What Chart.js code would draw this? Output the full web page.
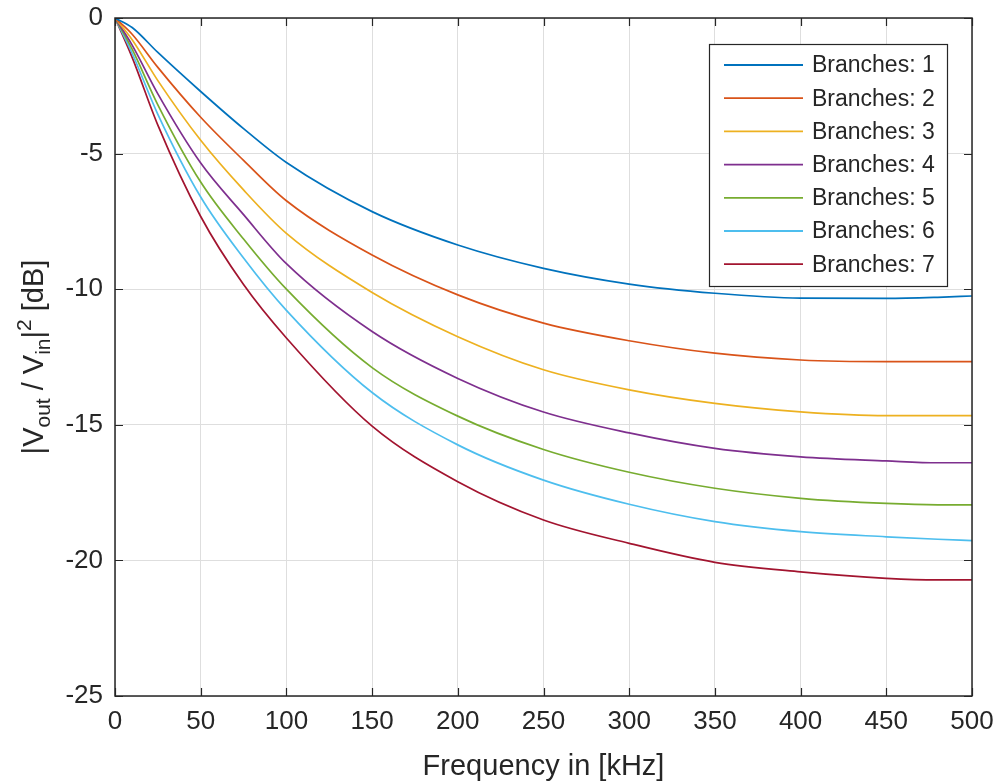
<!DOCTYPE html>
<html lang="en">
<head>
  <meta charset="UTF-8">
  <title>Branches frequency response</title>
  <script src="https://cdn.jsdelivr.net/npm/chart.js"></script>
  <style>
    body {
      margin: 0;
      background: #fff;
    }
    #wrap {
      width: 996px;
      height: 784px;
    }
  </style>
</head>
<body>
  <div id="wrap"><canvas id="chart" width="996" height="784"></canvas></div>

  <script>
    // ---------------- data ---------------- //
    const freqKHz = [0, 10, 25, 50, 75, 100, 150, 200, 250, 300, 350, 400, 450, 480, 500];

    const branches1 = [0, -0.35, -1.27, -2.71, -4.08, -5.33, -7.14, -8.37, -9.23, -9.81, -10.15, -10.33, -10.34, -10.3, -10.25];
    const branches2 = [0, -0.6, -1.82, -3.66, -5.25, -6.74, -8.74, -10.21, -11.25, -11.9, -12.36, -12.61, -12.67, -12.67, -12.67];
    const branches3 = [0, -0.8, -2.31, -4.51, -6.34, -7.94, -10.12, -11.75, -12.97, -13.71, -14.21, -14.52, -14.66, -14.66, -14.66];
    const branches4 = [0, -1.0, -2.8, -5.35, -7.25, -9.06, -11.56, -13.29, -14.53, -15.3, -15.87, -16.18, -16.33, -16.4, -16.4];
    const branches5 = [0, -1.15, -3.2, -6.05, -8.15, -10.0, -12.89, -14.68, -15.91, -16.75, -17.34, -17.71, -17.9, -17.95, -17.95];
    const branches6 = [0, -1.3, -3.55, -6.6, -8.85, -10.78, -13.81, -15.74, -17.04, -17.93, -18.57, -18.94, -19.13, -19.22, -19.27];
    const branches7 = [0, -1.45, -3.95, -7.32, -9.83, -11.8, -15.05, -17.1, -18.51, -19.37, -20.07, -20.42, -20.66, -20.72, -20.72];

    const seriesLabels = ['Branches: 1', 'Branches: 2', 'Branches: 3', 'Branches: 4', 'Branches: 5', 'Branches: 6', 'Branches: 7'];
    const seriesValues = [branches1, branches2, branches3, branches4, branches5, branches6, branches7];
    const seriesColors = ['#0072BD', '#D95319', '#EDB120', '#7E2F8E', '#77AC30', '#4DBEEE', '#A2142F'];

    const xTicks = [0, 50, 100, 150, 200, 250, 300, 350, 400, 450, 500];
    const yTicks = [0, -5, -10, -15, -20, -25];

    const FONT = '"Liberation Sans", Arial, Helvetica, sans-serif';
    const INK = '#262626';

    // ---------------- MATLAB-like box, inner ticks, legend, y label ---------------- //
    const matlabAxes = {
      id: 'matlabAxes',
      afterDatasetsDraw(chart) {
        const { ctx, chartArea: a, scales: { x, y } } = chart;
        ctx.save();

        // inward tick marks on all four sides
        ctx.strokeStyle = INK;
        ctx.lineWidth = 1.2;
        ctx.beginPath();
        xTicks.forEach(v => {
          const px = Math.round(x.getPixelForValue(v)) + 0.5;
          ctx.moveTo(px, a.bottom); ctx.lineTo(px, a.bottom - 8);
          ctx.moveTo(px, a.top); ctx.lineTo(px, a.top + 8);
        });
        yTicks.forEach(v => {
          const py = Math.round(y.getPixelForValue(v)) + 0.5;
          ctx.moveTo(a.left, py); ctx.lineTo(a.left + 8, py);
          ctx.moveTo(a.right, py); ctx.lineTo(a.right - 8, py);
        });
        ctx.stroke();

        // box
        ctx.lineWidth = 1.5;
        ctx.strokeRect(a.left, a.top, a.right - a.left, a.bottom - a.top);

        // legend, top right inside the axes
        const boxW = 238, boxH = 242;
        const bx = a.right - 25 - boxW, by = a.top + 26;
        ctx.fillStyle = '#fff';
        ctx.fillRect(bx, by, boxW, boxH);
        ctx.lineWidth = 1.2;
        ctx.strokeRect(bx + 0.5, by + 0.5, boxW, boxH);
        ctx.font = '23px ' + FONT;
        ctx.textBaseline = 'middle';
        ctx.textAlign = 'left';
        chart.data.datasets.forEach((ds, i) => {
          const ry = by + 21 + i * 33.2;
          ctx.strokeStyle = ds.borderColor;
          ctx.lineWidth = 1.8;
          ctx.beginPath();
          ctx.moveTo(bx + 15, ry); ctx.lineTo(bx + 94, ry);
          ctx.stroke();
          ctx.fillStyle = INK;
          ctx.fillText(ds.label, bx + 103, ry + 1);
        });

        // y label with sub/superscripts, rotated
        const big = 29, small = 21;
        const runs = [
          { t: '|V', s: big, dy: 0 },
          { t: 'out', s: small, dy: 7 },
          { t: ' / V', s: big, dy: 0 },
          { t: 'in', s: small, dy: 7 },
          { t: '|', s: big, dy: 0 },
          { t: '2', s: small, dy: -12 },
          { t: ' [dB]', s: big, dy: 0 }
        ];
        let total = 0;
        runs.forEach(r => { ctx.font = r.s + 'px ' + FONT; r.w = ctx.measureText(r.t).width; total += r.w; });
        const cy = (a.top + a.bottom) / 2;
        ctx.translate(43, cy);
        ctx.rotate(-Math.PI / 2);
        ctx.fillStyle = INK;
        ctx.textBaseline = 'alphabetic';
        let cx = -total / 2;
        runs.forEach(r => {
          ctx.font = r.s + 'px ' + FONT;
          ctx.fillText(r.t, cx, r.dy);
          cx += r.w;
        });

        ctx.restore();
      }
    };

    const datasets = seriesValues.map((vals, i) => ({
      label: seriesLabels[i],
      data: freqKHz.map((f, j) => ({ x: f, y: vals[j] })),
      borderColor: seriesColors[i],
      borderWidth: 1.7,
      pointRadius: 0,
      fill: false,
      cubicInterpolationMode: 'monotone'
    }));

    new Chart(document.getElementById('chart'), {
      type: 'line',
      data: { datasets },
      options: {
        responsive: false,
        animation: false,
        layout: { padding: { top: 18, right: 24, bottom: 0, left: 0 } },
        plugins: {
          legend: { display: false },
          tooltip: { enabled: false }
        },
        scales: {
          x: {
            type: 'linear',
            min: 0,
            max: 500,
            afterFit(scale) {
              scale.height = 88;
              scale.paddingLeft = 0;
              scale.paddingRight = 0;
            },
            afterBuildTicks(scale) { scale.ticks = xTicks.map(v => ({ value: v })); },
            grid: { color: '#dedede', lineWidth: 1, drawTicks: false },
            border: { display: false },
            ticks: { font: { size: 26, family: FONT }, color: INK, padding: 10, maxRotation: 0 },
            title: {
              display: true,
              text: 'Frequency in [kHz]',
              font: { size: 29, family: FONT },
              color: INK,
              padding: { top: 0, bottom: 0 }
            }
          },
          y: {
            type: 'linear',
            min: -25,
            max: 0,
            afterFit(scale) {
              scale.width = 115;
              scale.paddingTop = 0;
              scale.paddingBottom = 0;
            },
            afterBuildTicks(scale) { scale.ticks = yTicks.map(v => ({ value: v })); },
            grid: { color: '#dedede', lineWidth: 1, drawTicks: false },
            border: { display: false },
            ticks: { font: { size: 26, family: FONT }, color: INK, padding: 12 }
          }
        }
      },
      plugins: [matlabAxes]
    });
  </script>
</body>
</html>
